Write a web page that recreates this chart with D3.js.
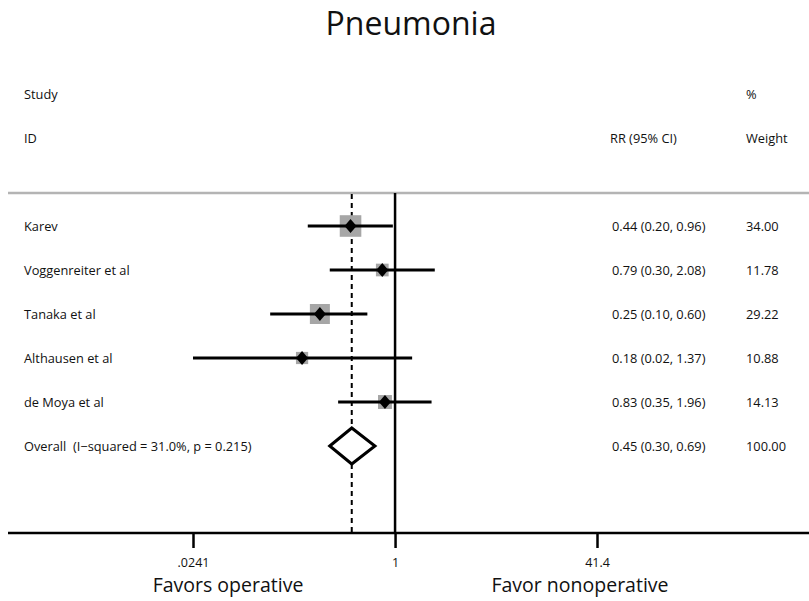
<!DOCTYPE html>
<html>
<head>
<meta charset="utf-8">
<script src="https://cdn.jsdelivr.net/npm/d3@7"></script>
<style>
  html, body { margin: 0; padding: 0; background: #fff; }
  svg { display: block; }
  text { font-family: "Open Sans", "Noto Sans", sans-serif; fill: #111; white-space: pre; }
</style>
</head>
<body>
<svg id="chart" width="809" height="601"></svg>
<script>
// Study-level relative risks for pneumonia
const studies = ["Karev", "Voggenreiter et al", "Tanaka et al", "Althausen et al", "de Moya et al"];
const rr      = [0.44, 0.79, 0.25, 0.18, 0.83];
const lower   = [0.20, 0.30, 0.10, 0.0241, 0.35];
const upper   = [0.96, 2.08, 0.60, 1.37, 1.96];
const weights = [34.00, 11.78, 29.22, 10.88, 14.13];

// Pooled estimate
const overallLabel = "Overall  (I\u2212squared = 31.0%, p = 0.215)";
const overall = { rr: 0.45, lo: 0.30, hi: 0.69, weight: 100.00 };

// Axis ticks and captions
const tickValues = [0.0241, 1, 41.4];
const tickLabels = [".0241", "1", "41.4"];
const leftCaption = "Favors operative";
const rightCaption = "Favor nonoperative";

const svg = d3.select("#chart");
const fmt2 = d3.format(".2f");

const x = d3.scaleLog().domain([0.0241, 41.4]).range([193, 597]);
const rowNames = studies.concat([overallLabel]);
const y = d3.scalePoint().domain(d3.range(rowNames.length)).range([226, 446]);
const size = d3.scaleSqrt().domain([0, 100]).range([0, 37]);

const headTop = 193, axisY = 533;
const small = "12.8px";

// Title
svg.append("text").attr("x", 411).attr("y", 34.5).attr("text-anchor", "middle")
  .style("font-size", "32px").text("Pneumonia");

// Column headers
const head = svg.append("g").style("font-size", small).style("font-weight", 500);
head.append("text").attr("x", 24).attr("y", 99).text("Study");
head.append("text").attr("x", 24).attr("y", 143).text("ID");
head.append("text").attr("x", 746).attr("y", 99).text("%");
head.append("text").attr("x", 610).attr("y", 143).text("RR (95% CI)");
head.append("text").attr("x", 746).attr("y", 143).text("Weight");

// Header rule
svg.append("line").attr("x1", 8).attr("x2", 809).attr("y1", headTop).attr("y2", headTop)
  .attr("stroke", "#b4b4b4").attr("stroke-width", 2.5);

// Null line at RR = 1
svg.append("line").attr("x1", x(1)).attr("x2", x(1)).attr("y1", headTop).attr("y2", axisY)
  .attr("stroke", "#000").attr("stroke-width", 2.5);

// Pooled-estimate reference line
svg.append("line").attr("x1", x(overall.rr)).attr("x2", x(overall.rr))
  .attr("y1", headTop + 1).attr("y2", axisY)
  .attr("stroke", "#000").attr("stroke-width", 2).attr("stroke-dasharray", "5,4");

// Study rows
const rows = svg.append("g").selectAll("g").data(studies.map((s, i) => i)).join("g");

rows.append("rect")
  .attr("x", i => x(rr[i]) - size(weights[i]) / 2)
  .attr("y", i => y(i) - size(weights[i]) / 2)
  .attr("width", i => size(weights[i]))
  .attr("height", i => size(weights[i]))
  .attr("fill", "#a6a6a6");

rows.append("line")
  .attr("x1", i => x(lower[i])).attr("x2", i => x(upper[i]))
  .attr("y1", i => y(i)).attr("y2", i => y(i))
  .attr("stroke", "#000").attr("stroke-width", 3);

rows.append("path")
  .attr("d", i => {
    const cx = x(rr[i]), cy = y(i);
    return `M${cx - 6},${cy} L${cx},${cy - 7} L${cx + 6},${cy} L${cx},${cy + 7} Z`;
  })
  .attr("fill", "#000");

// Row text
const txt = svg.append("g").style("font-size", small).style("font-weight", 500);
rowNames.forEach((name, i) => {
  txt.append("text").attr("x", 24).attr("y", y(i) + 4.5).text(name);
});
studies.forEach((s, i) => {
  txt.append("text").attr("x", 612).attr("y", y(i) + 4.5)
    .text(`${fmt2(rr[i])} (${fmt2(lower[i])}, ${fmt2(upper[i])})`);
  txt.append("text").attr("x", 746).attr("y", y(i) + 4.5).text(fmt2(weights[i]));
});
const oi = studies.length;
txt.append("text").attr("x", 612).attr("y", y(oi) + 4.5)
  .text(`${fmt2(overall.rr)} (${fmt2(overall.lo)}, ${fmt2(overall.hi)})`);
txt.append("text").attr("x", 746).attr("y", y(oi) + 4.5).text(fmt2(overall.weight));

// Pooled diamond
const oy = y(oi);
svg.append("path")
  .attr("d", `M${x(overall.lo)},${oy} L${x(overall.rr)},${oy - 18} L${x(overall.hi)},${oy} L${x(overall.rr)},${oy + 18} Z`)
  .attr("fill", "#fff").attr("stroke", "#000").attr("stroke-width", 3)
  .attr("stroke-linejoin", "miter");

// X axis
svg.append("line").attr("x1", 8).attr("x2", 809).attr("y1", axisY).attr("y2", axisY)
  .attr("stroke", "#000").attr("stroke-width", 2.5);

const axis = d3.axisBottom(x).tickValues(tickValues)
  .tickFormat((d, i) => tickLabels[i]).tickSize(15).tickPadding(10);
const ax = svg.append("g").attr("transform", `translate(0,${axisY})`).call(axis);
ax.select(".domain").remove();
ax.selectAll(".tick line").attr("stroke", "#000").attr("stroke-width", 2.5);
ax.selectAll(".tick text").style("font-size", "12.5px").style("font-weight", 500)
  .style("font-family", "\"Open Sans\", sans-serif").attr("fill", "#111");

// Direction captions
svg.append("text").attr("x", 228).attr("y", 592).attr("text-anchor", "middle")
  .style("font-size", "19.5px").text(leftCaption);
svg.append("text").attr("x", 580).attr("y", 592).attr("text-anchor", "middle")
  .style("font-size", "19.5px").text(rightCaption);
</script>
</body>
</html>
